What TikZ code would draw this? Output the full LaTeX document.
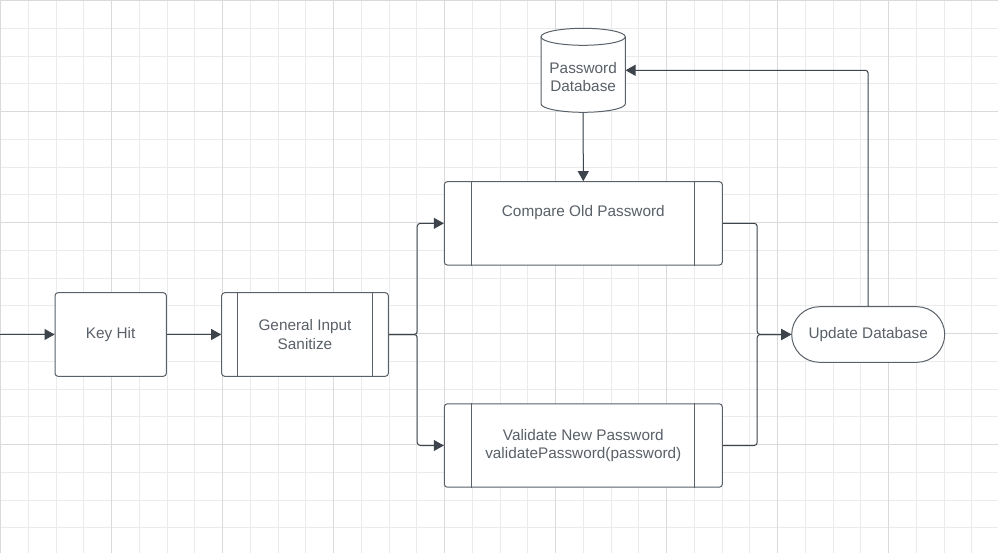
\documentclass[tikz,border=0pt]{standalone}
\usepackage{fontspec}
\setmainfont{Liberation Sans}
\usetikzlibrary{arrows.meta,shapes.misc}
\definecolor{gridminor}{HTML}{EBEBEB}
\definecolor{gridmajor}{HTML}{DADADA}
\definecolor{linec}{HTML}{3D444C}
\definecolor{borderc}{HTML}{5A6169}
\definecolor{textc}{HTML}{5A6068}
\tikzset{
  minorline/.style={gridminor, line width=0.75pt},
  majorline/.style={gridmajor, line width=0.75pt},
  box/.style={draw=borderc, line width=0.75pt, fill=white, rounded corners=2.25pt, inner sep=0pt,
     text=textc, align=center, font=\fontsize{11.5}{13.9}\selectfont},
  txt/.style={inner sep=0pt, text=textc, align=center, font=\fontsize{11.5}{13.9}\selectfont},
  conn/.style={draw=linec, line width=0.75pt, rounded corners=2.25pt},
  arr/.style={conn, -{Triangle[length=7.5pt, width=8.25pt]}},
  inner/.style={draw=borderc, line width=0.75pt},
}
\begin{document}
\begin{tikzpicture}[x=0.75pt, y=0.75pt]
\useasboundingbox (0,0) rectangle (998,-553);
\fill[white] (0,0) rectangle (998,-553);
% grid
\foreach \i in {0,...,36} \draw[minorline] ({0.7+27.75*\i},0) -- ({0.7+27.75*\i},-553);
\foreach \j in {0,...,20} \draw[minorline] (0,{-0.7-27.75*\j}) -- (998,{-0.7-27.75*\j});
\foreach \i in {0,...,9} \draw[majorline] ({0.7+111*\i},0) -- ({0.7+111*\i},-553);
\foreach \j in {0,...,4} \draw[majorline] (0,{-0.7-111*\j}) -- (998,{-0.7-111*\j});

% nodes
\node[box, minimum width=83.5pt, minimum height=62.7pt] (key) at (110.7,-334.5) {Key Hit};
\node[box, minimum width=125pt, minimum height=62.7pt] (gis) at (305,-334.5) {General Input\\Sanitize};
\draw[inner] ([xshift=12.5pt]gis.north west) -- ([xshift=12.5pt]gis.south west);
\draw[inner] ([xshift=-12.5pt]gis.north east) -- ([xshift=-12.5pt]gis.south east);

\node[box, minimum width=208.5pt, minimum height=62.5pt] (cmp) at (583.3,-223.35) {};
\node[txt] (cmptxt) at (583.3,-212.3) {Compare Old Password};
\draw[inner] ([xshift=21pt]cmp.north west) -- ([xshift=21pt]cmp.south west);
\draw[inner] ([xshift=-21pt]cmp.north east) -- ([xshift=-21pt]cmp.south east);

\node[box, minimum width=208.5pt, minimum height=62.5pt] (val) at (583.3,-445.5) {Validate New Password\\validatePassword(password)};
\draw[inner] ([xshift=21pt]val.north west) -- ([xshift=21pt]val.south west);
\draw[inner] ([xshift=-21pt]val.north east) -- ([xshift=-21pt]val.south east);

\node[box, rounded rectangle, rounded corners=0pt, minimum width=114.75pt, minimum height=41.7pt] (upd) at (868.2,-334.5) {Update Database};

% cylinder
\node[inner sep=0pt, minimum width=63.2pt, minimum height=63pt] (db) at (583.15,-70.3) {};
\fill[white] (541,-36.8) -- (541,-103.8) arc[start angle=180, end angle=360, x radius=31.61pt, y radius=6.375pt] -- (625.3,-36.8) arc[start angle=0, end angle=180, x radius=31.61pt, y radius=6.375pt] -- cycle;
\draw[inner] (541,-36.8) -- (541,-103.8) arc[start angle=180, end angle=360, x radius=31.61pt, y radius=6.375pt] -- (625.3,-36.8);
\draw[inner] (583.15,-36.8) ellipse[x radius=31.61pt, y radius=6.375pt];
\node[txt] (dbtxt) at (583.15,-76.8) {Password\\Database};

% connectors
\coordinate (start) at (0,-334.5);
\draw[arr] (start) -- (key.west);
\draw[arr] (key.east) -- (gis.west);
\draw[arr] (gis.east) -- ++(28.4,0) |- (cmp.west);
\draw[arr] (gis.east) -- ++(28.4,0) |- (val.west);
\draw[arr] (cmp.east) -- ++(34.4,0) |- (upd.west);
\draw[arr] (val.east) -- ++(34.4,0) |- (upd.west);
\draw[arr] (upd.north) |- (db.east);
\draw[arr] (db.south) -- (cmp.north);
\end{tikzpicture}
\end{document}
